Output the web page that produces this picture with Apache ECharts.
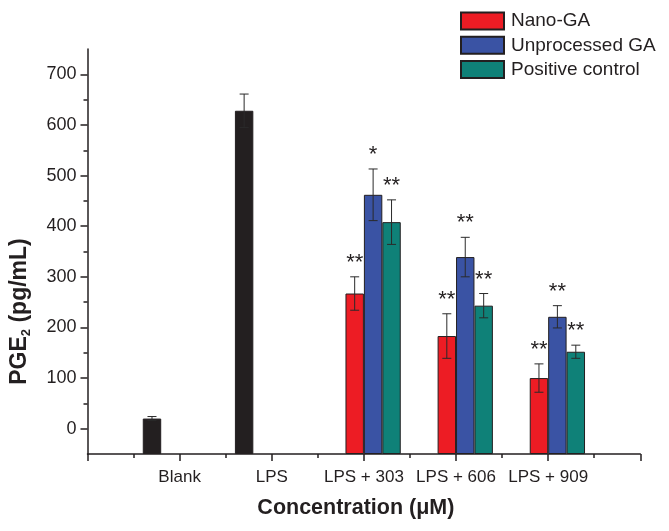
<!DOCTYPE html>
<html><head><meta charset="utf-8">
<script src="https://cdn.jsdelivr.net/npm/echarts@6/dist/echarts.min.js"></script>
<style>html,body{margin:0;padding:0;background:#fff}#c{width:669px;height:531px}</style>
</head><body><div id="c"></div>
<script>
// ---- data ----
const categories = ['Blank', 'LPS', 'LPS + 303', 'LPS + 606', 'LPS + 909'];
const seriesNames = ['Nano-GA', 'Unprocessed GA', 'Positive control'];
const controlValues = [20, 628, null, null, null];
const controlErrors = [4, 33, null, null, null];
const nanoValues = [null, null, 267, 183, 100];
const nanoErrors = [null, null, 33, 44, 28];
const nanoMarks = ['', '', '**', '**', '**'];
const unprocessedValues = [null, null, 462, 339, 221];
const unprocessedErrors = [null, null, 51, 39, 22];
const unprocessedMarks = ['', '', '*', '**', '**'];
const positiveValues = [null, null, 408, 243, 152];
const positiveErrors = [null, null, 44, 24, 13];
const positiveMarks = ['', '', '**', '**', '**'];
const yTickLabels = [0, 100, 200, 300, 400, 500, 600, 700];
const yMinorTicks = [50, 150, 250, 350, 450, 550, 650];
const xMinorTicks = [0.5, 1.5, 2.5, 3.5, 4.5, 5.5];

// ---- build ----
const FONT = "'Liberation Sans', Arial, Helvetica, sans-serif";
const INK = '#231F20';
const axisCategories = [''].concat(categories, ['']);
const pad = a => [null].concat(a, [null]);
const CAT_GAP = 0.2, N_SLOTS = 4;
const Y_MIN = -50, Y_MAX = 750;

const groups = [
  {values: controlValues, errors: controlErrors, marks: ['', '', '', '', ''], slot: 0},
  {values: nanoValues, errors: nanoErrors, marks: nanoMarks, slot: 1},
  {values: unprocessedValues, errors: unprocessedErrors, marks: unprocessedMarks, slot: 2},
  {values: positiveValues, errors: positiveErrors, marks: positiveMarks, slot: 3}
];
const errData = [], errMarks = [];
groups.forEach(g => {
  g.values.forEach((v, i) => {
    if (v != null) {
      errData.push([i + 1, v, g.errors[i], g.slot]);
      errMarks.push(g.marks[i]);
    }
  });
});

function barSeries(name, values, color) {
  return {
    name: name, type: 'bar', data: pad(values),
    barGap: '0%', barCategoryGap: (CAT_GAP * 100) + '%',
    itemStyle: {color: color, borderColor: INK, borderWidth: 1},
    emphasis: {disabled: true}
  };
}

const chart = echarts.init(document.getElementById('c'));
chart.setOption({
  animation: false,
  backgroundColor: '#fff',
  textStyle: {fontFamily: FONT},
  grid: {left: 86.5, right: 28.7, top: 49, bottom: 77, containLabel: false},
  legend: {
    data: seriesNames, orient: 'vertical', left: 460, top: 11.5, padding: 0,
    itemWidth: 43, itemHeight: 17, itemGap: 5.3, icon: 'rect',
    textStyle: {fontSize: 19, color: INK, fontFamily: FONT, padding: [0, 0, 0, 2]}
  },
  xAxis: [
    {
      type: 'category', data: axisCategories, boundaryGap: false,
      axisLine: {onZero: false, lineStyle: {color: INK, width: 1.5}},
      axisTick: {interval: 0, length: 7, lineStyle: {color: INK, width: 1.5}},
      axisLabel: {interval: 0, margin: 15, fontSize: 17, color: INK, fontFamily: FONT},
      splitLine: {show: false},
      name: 'Concentration (μM)', nameLocation: 'middle', nameGap: 43,
      nameTextStyle: {fontSize: 21.5, fontWeight: 'bold', color: INK, fontFamily: FONT, padding: [0, 16, 0, 0]}
    },
    {
      type: 'value', min: 0, max: 6, position: 'bottom',
      axisLine: {show: false, onZero: false}, axisLabel: {show: false}, splitLine: {show: false},
      axisTick: {show: true, length: 4, customValues: xMinorTicks, lineStyle: {color: INK, width: 1.5}}
    }
  ],
  yAxis: [
    {
      type: 'value', min: Y_MIN, max: Y_MAX, startValue: Y_MIN,
      axisLine: {show: true, onZero: false, lineStyle: {color: INK, width: 1.5}},
      axisTick: {show: true, length: 7, customValues: yTickLabels, lineStyle: {color: INK, width: 1.5}},
      axisLabel: {customValues: yTickLabels, fontSize: 18, margin: 11, color: INK, fontFamily: FONT},
      splitLine: {show: false},
      name: '{b|PGE}{s|2}{b| (pg/mL)}', nameLocation: 'middle', nameGap: 55,
      nameTextStyle: {
        padding: [0, 120, 0, 0],
        rich: {
          b: {fontSize: 23, fontWeight: 'bold', color: INK, fontFamily: FONT, lineHeight: 26, verticalAlign: 'middle'},
          s: {fontSize: 13, fontWeight: 'bold', color: INK, fontFamily: FONT, lineHeight: 13, verticalAlign: 'bottom'}
        }
      }
    },
    {
      type: 'value', min: Y_MIN, max: Y_MAX, position: 'left',
      axisLine: {show: false, onZero: false}, axisLabel: {show: false}, splitLine: {show: false},
      axisTick: {show: true, length: 4, customValues: yMinorTicks, lineStyle: {color: INK, width: 1.5}}
    }
  ],
  series: [
    barSeries('Control', controlValues, INK),
    barSeries(seriesNames[0], nanoValues, '#ED1C24'),
    barSeries(seriesNames[1], unprocessedValues, '#3A53A4'),
    barSeries(seriesNames[2], positiveValues, '#0F8178'),
    {
      type: 'custom', name: 'errors', data: errData, z: 10,
      encode: {x: 0, y: 1}, clip: false, silent: true,
      renderItem: function (params, api) {
        const idx = api.value(0), v = api.value(1), e = api.value(2), slot = api.value(3);
        const band = api.size([1, 0])[0];
        const bw = band * (1 - CAT_GAP) / N_SLOTS;
        const base = api.coord([idx, v]);
        const x = base[0] + (slot - (N_SLOTS - 1) / 2) * bw;
        const yTop = api.coord([idx, v + e])[1];
        const yBot = api.coord([idx, v - e])[1];
        const cap = 4.5;
        const st = {stroke: '#2a2a2a', lineWidth: 1};
        const children = [
          {type: 'line', shape: {x1: x, y1: yTop, x2: x, y2: yBot}, style: st},
          {type: 'line', shape: {x1: x - cap, y1: yTop, x2: x + cap, y2: yTop}, style: st},
          {type: 'line', shape: {x1: x - cap, y1: yBot, x2: x + cap, y2: yBot}, style: st}
        ];
        const mark = errMarks[params.dataIndex];
        if (mark) {
          children.push({type: 'text', style: {text: mark, x: x, y: yTop - 3, align: 'center', verticalAlign: 'bottom',
            fontSize: 22, fontFamily: FONT, fill: INK}});
        }
        return {type: 'group', children: children};
      }
    }
  ]
});
</script>
</body></html>
